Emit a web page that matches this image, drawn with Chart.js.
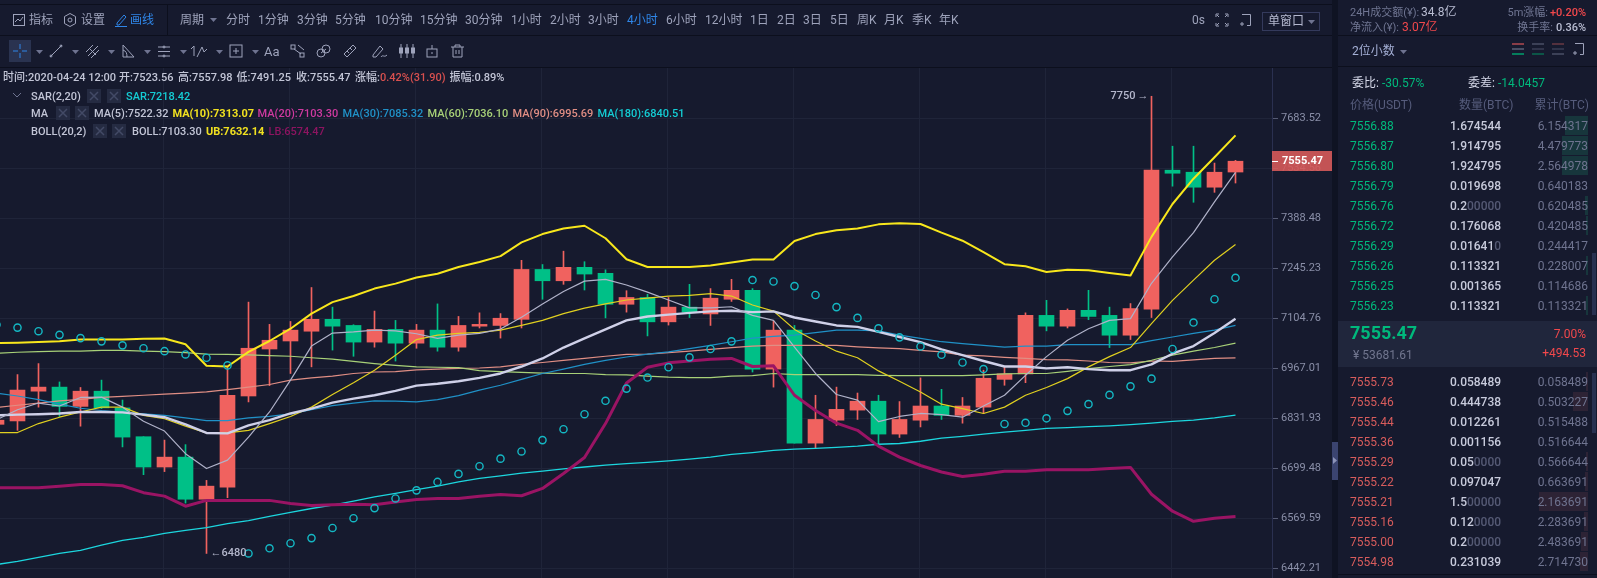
<!DOCTYPE html>
<html><head><meta charset="utf-8">
<style>
html,body{margin:0;padding:0;width:1597px;height:578px;overflow:hidden;background:#161a2e;font-family:Roboto,"Noto Sans CJK SC",sans-serif;}
#ui{position:absolute;left:0;top:0;width:1597px;height:578px;pointer-events:none;}
#wrap{position:absolute;left:0;top:68px;width:1332px;height:510px;}
canvas{display:block;}
.t{position:absolute;white-space:nowrap;transform:translateY(-50%);line-height:1;}
.r{position:absolute;}
svg{position:absolute;overflow:visible;}
</style>
<script src="https://cdn.jsdelivr.net/npm/chart.js@4"></script>
</head><body>
<div id="wrap"><canvas id="c" width="1332" height="510"></canvas></div>
<div id="ui"></div>
<script>
// ---------- candle data (USDT, 4h candles) ----------
const openP=[6816,6825,6905,6916,6864,6905,6860,6783,6703,6729,6619,6650,6892,7020,7042,7069,7102,7085,7039,7074,7036,7072,7025,7083,7085,7102,7242,7210,7248,7231,7144,7163,7095,7136,7117,7158,7183,6965,7072,6766,6827,6854,6878,6790,6827,6865,6840,6862,6937,6952,7113,7083,7127,7113,7058,7130,7529,7523,7479,7523.56];
const closeP=[6827,6908,6916,6864,6905,6860,6782,6703,6729,6619,6653,6894,7022,7044,7072,7102,7083,7039,7074,7036,7072,7025,7085,7088,7105,7242,7210,7248,7229,7144,7163,7095,7136,7122,7161,7183,6965,7072,6766,6829,6856,6878,6790,6829,6865,6840,6865,6940,6952,7113,7083,7127,7110,7058,7132,7529,7520,7479,7523,7555.47];
const highP=[6836,6950,6980,6930,6915,6935,6881,6783,6774,6762,6668,6970,7150,7088,7096,7191,7136,7087,7125,7099,7088,7145,7110,7120,7118,7268,7256,7294,7264,7241,7182,7172,7163,7200,7188,7214,7188,7097,7085,6894,6916,6900,6894,6877,6941,6910,6888,6962,6971,7120,7155,7131,7183,7136,7146,7750,7600,7600,7550,7557.98];
const lowP=[6800,6800,6862,6837,6811,6858,6756,6683,6691,6609,6480,6623,6876,6920,6953,6971,7017,7000,7025,6987,7022,7014,7014,7078,7050,7078,7158,7200,7184,7106,7122,7056,7086,7107,7085,7152,6957,6916,6766,6752,6813,6829,6762,6781,6809,6829,6819,6845,6921,6928,7070,7078,7101,7024,7046,7107,7482,7435,7464,7491.25];
// ---------- indicator series ----------
const ma5=[6828,6855,6873,6865,6888,6889,6862,6824,6798,6738,6699,6721,6782,6849,6935,7028,7064,7067,7072,7070,7062,7049,7058,7063,7075,7108,7145,7180,7209,7214,7198,7178,7156,7134,7134,7137,7113,7099,7025,6953,6896,6881,6823,6837,6845,6842,6835,6865,6894,6948,6999,7044,7076,7099,7104,7203,7278,7347,7436,7522.32];
const ma10=[6794,6794,6818,6835,6849,6862,6862,6840,6831,6811,6793,6793,6800,6818,6837,6862,6896,6928,6962,7003,7046,7058,7063,7066,7072,7085,7099,7118,7133,7145,7156,7161,7167,7169,7174,7167,7142,7125,7074,7042,7014,6996,6960,6932,6903,6870,6858,6845,6862,6894,6915,6939,6971,6999,7024,7090,7155,7212,7268,7313.07];
const ma30=[6900,6892,6882,6870,6859,6853,6849,6844,6840,6833,6826,6826,6833,6837,6844,6855,6866,6873,6879,6878,6876,6882,6893,6908,6921,6937,6953,6965,6978,6989,6998,7006,7012,7021,7030,7040,7050,7055,7058,7065,7072,7072,7070,7058,7049,7040,7035,7030,7025,7028,7028,7032,7032,7032,7032,7043,7053,7063,7072,7085.32];
const ma60=[7008,7011,7013,7014,7014,7016,7016,7014,7013,7010,7006,7005,7004,7002,7000,6996,6992,6986,6980,6975,6971,6970,6969,6961,6958,6956,6954,6953,6953,6950,6949,6946,6943,6942,6942,6946,6947,6953,6950,6950,6950,6950,6948,6947,6947,6947,6947,6949,6952,6953,6953,6959,6966,6972,6977,6989,7003,7014,7024,7036.10];
const ma90=[6861,6867,6873,6879,6883,6888,6891,6894,6897,6900,6903,6909,6916,6923,6935,6941,6946,6953,6957,6958,6963,6965,6967,6968,6971,6978,6983,6989,6994,7000,7005,7006,7010,7014,7019,7024,7028,7030,7030,7030,7030,7026,7023,7021,7016,7012,7003,7001,6997,6994,6991,6990,6987,6983,6982,6987,6986,6990,6994,6995.69];
const ma180=[6452,6460,6470,6480,6488,6501,6513,6521,6531,6539,6546,6556,6564,6575,6585,6595,6604,6614,6625,6634,6644,6653,6664,6673,6680,6687,6692,6698,6703,6708,6712,6715,6719,6724,6729,6736,6741,6747,6750,6752,6755,6758,6763,6765,6771,6779,6784,6790,6795,6800,6805,6807,6810,6812,6815,6819,6824,6827,6833,6840.51];
const bollMid=[6840,6842,6843,6845,6849,6849,6848,6842,6835,6816,6793,6792,6813,6827,6845,6858,6874,6885,6894,6906,6920,6925,6932,6941,6953,6972,6994,7024,7049,7074,7099,7110,7115,7120,7124,7126,7122,7124,7107,7096,7085,7081,7067,7053,7039,7019,7003,6987,6972,6972,6967,6970,6965,6962,6962,6978,7007,7028,7064,7103.30];
const bollUp=[7036,7037,7039,7041,7046,7046,7046,7048,7049,7033,6974,6972,7012,7042,7076,7118,7150,7167,7188,7202,7219,7230,7249,7263,7280,7319,7343,7359,7367,7331,7271,7249,7249,7249,7253,7262,7270,7270,7323,7343,7354,7359,7371,7374,7372,7347,7324,7291,7257,7251,7235,7241,7240,7232,7225,7335,7430,7504,7567,7632.14];
const bollLow=[6649,6649,6649,6653,6657,6657,6654,6636,6627,6601,6616,6616,6616,6616,6608,6603,6605,6606,6605,6612,6618,6621,6621,6627,6631,6628,6647,6686,6728,6818,6927,6970,6982,6987,6992,6994,6972,6974,6894,6853,6819,6800,6758,6729,6707,6690,6678,6684,6692,6692,6696,6696,6696,6699,6702,6632,6588,6562,6570,6574.47];
const sar=[7087,7079,7069,7059,7050,7041,7030,7022,7014,7005,6996,6975,6480,6493,6506,6519,6545,6570,6596,6621,6642,6664,6685,6705,6725,6744,6774,6803,6843,6879,6912,6942,6970,6997,7020,7041,7212,7208,7195,7170,7136,7106,7077,7052,7027,7004,6983,6965,6817,6820,6832,6852,6870,6895,6918,6939,7020,7093,7158,7218.42];
const priceTicks=[7683.52,7534.56,7388.48,7245.23,7104.76,6967.01,6831.93,6699.48,6569.59,6442.21];
const dayStartCandles=[8,14,20,26,32,38,44,50,56];
const lastPrice=7555.47;
const hiMark=7750, loMark=6480;

// ---------- order book ----------
const bidPrice=["7556.88","7556.87","7556.80","7556.79","7556.76","7556.72","7556.29","7556.26","7556.25","7556.23"];
const bidQty=["1.674544","1.914795","1.924795","0.019698","0.200000","0.176068","0.016410","0.113321","0.001365","0.113321"];
const bidCum=["6.154317","4.479773","2.564978","0.640183","0.620485","0.420485","0.244417","0.228007","0.114686","0.113321"];
const askPrice=["7555.73","7555.46","7555.44","7555.36","7555.29","7555.22","7555.21","7555.16","7555.00","7554.98"];
const askQty=["0.058489","0.444738","0.012261","0.001156","0.050000","0.097047","1.500000","0.120000","0.200000","0.231039"];
const askCum=["0.058489","0.503227","0.515488","0.516644","0.566644","0.663691","2.163691","2.283691","2.483691","2.714730"];

const UP='#f0625f',DOWN='#00c087';
const idx=openP.map((_,i)=>i);
const col=idx.map(i=>closeP[i]>=openP[i]?UP:DOWN);
const line=(data,color,w,order)=>({type:'line',data:data.map((y,i)=>({x:i,y})),borderColor:color,borderWidth:w,pointRadius:0,tension:0,order,borderJoinStyle:'round'});

const overlay={id:'overlay',afterDraw(ch){
  const {ctx,scales:{x,y}}=ch;ctx.save();
  // high / low markers
  ctx.font='500 11px Roboto';ctx.fillStyle='#b4b7cc';ctx.textBaseline='middle';
  const hx=x.getPixelForValue(highP.indexOf(hiMark)),hy=y.getPixelForValue(hiMark);
  const lx=x.getPixelForValue(lowP.indexOf(loMark)),ly=y.getPixelForValue(loMark);
  ctx.textAlign='right';ctx.fillText(String(hiMark),hx-16,hy);ctx.fillText('→',hx-3,hy);
  ctx.textAlign='left';ctx.fillText('←',lx+4,ly);ctx.fillText(String(loMark),lx+15,ly);
  // current price box
  const py=Math.round(y.getPixelForValue(lastPrice));
  ctx.fillStyle='rgba(214,90,90,0.90)';ctx.fillRect(1272,py-10,60,20);
  ctx.fillStyle='#fff';ctx.fillRect(1272,py,6,1);
  ctx.font='bold 11px Roboto';ctx.textAlign='left';ctx.fillText(lastPrice.toFixed(2),1282,py+0.5);
  ctx.restore();
}};

new Chart(document.getElementById('c'),{
  data:{datasets:[
    {type:'bar',grouped:false,data:idx.map(i=>({x:i,y:[lowP[i],highP[i]]})),backgroundColor:col,barThickness:1,order:100},
    {type:'bar',grouped:false,data:idx.map(i=>({x:i,y:[Math.min(openP[i],closeP[i]),Math.max(openP[i],closeP[i])]})),backgroundColor:col,barThickness:15,order:99},
    line(ma180,'#1cd6de',1.3,9),
    line(ma90,'#e08e84',1.2,8),
    line(ma60,'#a8d178',1.2,7),
    line(ma30,'#2091c7',1.2,6),
    line(ma10,'#e0d020',1.2,5),
    line(bollMid,'#cfd0e8',2.4,4),
    line(ma5,'#b0b2c9',1.2,3),
    line(bollLow,'#9a1464',3,2),
    line(bollUp,'#f8e71c',2,1),
    {type:'line',showLine:false,data:sar.map((y,i)=>({x:i,y})),pointRadius:3.6,pointBorderWidth:1.4,pointBorderColor:'#14b8c4',pointBackgroundColor:'rgba(0,0,0,0)',order:0}
  ]},
  plugins:[overlay],
  options:{
    responsive:false,animation:false,devicePixelRatio:1,
    layout:{padding:0,autoPadding:false},
    plugins:{legend:{display:false},tooltip:{enabled:false}},
    scales:{
      x:{type:'linear',offset:false,min:0.16667,max:60.7381,position:'bottom',
        afterBuildTicks(s){s.ticks=dayStartCandles.map(v=>({value:v-0.05}));},
        afterFit(s){s.height=0;s.paddingLeft=0;s.paddingRight=0;},
        ticks:{display:false},border:{display:false},grid:{offset:false,color:'#1f2439',drawTicks:false}},
      y:{type:'logarithmic',position:'right',min:6418.0,max:7836.3,
        afterBuildTicks(s){s.ticks=priceTicks.map(v=>({value:v}));},
        afterFit(s){s.width=60;s.paddingTop=0;s.paddingBottom=0;},
        ticks:{autoSkip:false,maxRotation:0,padding:3,color:'#8a8fa8',font:{family:'Roboto',size:11},callback:v=>Number(v).toFixed(2)},
        border:{color:'#2a3050'},
        grid:{color:'#1f2439',tickColor:'#565b74',tickLength:6}}
    }
  }
});

// ---------- page chrome ----------
const ui=document.getElementById('ui');
function T(x,y,s,c,o={}){const e=document.createElement('div');e.className='t';e.textContent=s;
  e.style.cssText+=`left:${x}px;top:${y}px;color:${c};font-size:${o.fs||12}px;font-weight:${o.w||400};`;
  if(o.right!==undefined){e.style.left='auto';e.style.right=(1597-o.right)+'px';}
  ui.appendChild(e);return e;}
function R(x,y,w,h,c){const e=document.createElement('div');e.className='r';
  e.style.cssText=`left:${x}px;top:${y}px;width:${w}px;height:${h}px;background:${c};`;ui.appendChild(e);return e;}
function S(x,y,w,h,inner,stroke='#8f95ad',sw=1){ui.insertAdjacentHTML('beforeend',`<svg style="left:${x}px;top:${y}px" width="${w}" height="${h}" viewBox="0 0 ${w} ${h}" fill="none" stroke="${stroke}" stroke-width="${sw}">${inner}</svg>`);}
const tri=(x,y,c='#6e7390')=>S(x,y,7,4,'<path d="M0 0H7L3.5 4Z" fill="'+c+'" stroke="none"/>');

const DK='#0c0f1d',TXT='#9ea3bb',BLUE='#2f86e8';
// separators
R(0,4,1332,1,DK);R(0,35,1332,1,DK);R(0,67,1332,1,DK);R(167,4,1,31,DK);
R(1332,0,6,578,'#0f1323');
// top toolbar
S(13,14,12,12,'<rect x=".5" y=".5" width="11" height="11"/><path d="M2 8l3-3 2 2 3-4"/>',TXT);
T(29,20,'指标',TXT);
S(64,13,12,14,'<path d="M6 .5l5.5 3v7L6 13.5.5 10.5v-7Z"/><circle cx="6" cy="7" r="2"/>',TXT);
T(81,20,'设置',TXT);
S(115,14,12,13,'<path d="M2 9L9 1l2 2-7 8H2ZM0 12.5h12"/>',BLUE);
T(130,20,'画线',BLUE);
T(180,20,'周期',TXT);tri(210,18);
const periods=[['分时',226],['1分钟',258],['3分钟',297],['5分钟',335],['10分钟',375],['15分钟',420],['30分钟',465],['1小时',511],['2小时',550],['3小时',588],['4小时',627],['6小时',666],['12小时',705],['1日',750],['2日',777],['3日',803],['5日',830],['周K',857],['月K',884],['季K',912],['年K',939]];
periods.forEach(([s,x])=>T(x,20,s,s==='4小时'?BLUE:TXT));
T(1192,20,'0s',TXT);
S(1216,14,12,12,'<path d="M0 3V0H3M9 0H12V3M12 9V12H9M3 12H0V9M1 1l2 2M11 1L9 3M11 11L9 9M1 11l2-2"/>',TXT);
S(1239,14,12,12,'<path d="M3 .5H11.5V11.5H8M3 8v4M1 10h4"/>',TXT);
const box=R(1262,12,58,19,'transparent');box.style.boxSizing='border-box';box.style.border='1px solid #343a5c';
T(1268,21,'单窗口','#b4b8cf');tri(1308,20);
// drawing toolbar
R(9,40,22,22,'#2a3350');
S(13,44,14,14,'<path d="M7 0V5M7 9V14M0 7H5M9 7H14"/>',BLUE);
[36,72,108,144,180,216,252].forEach(x=>tri(x,50));
S(50,45,12,12,'<path d="M0 12L12 0"/><circle cx="1" cy="11" r="1"/><circle cx="11" cy="1" r="1"/>',TXT);
S(86,45,13,13,'<path d="M0 7L7 0M2 11L12 1M5 13L13 5M3 3L10 10" />',TXT);
S(122,45,12,13,'<path d="M1 0V12H12ZM1 5C4 6 5 8 5 12"/>',TXT);
S(158,45,12,13,'<path d="M0 2H12M0 6.5H12M0 11H12"/><circle cx="6" cy="2" r="1"/><circle cx="6" cy="11" r="1"/>',TXT);
S(191,45,17,13,'<path d="M0 4L3 1V11M6 12L11 2L13 7L16 4"/>',TXT);
S(229,44,14,14,'<rect x="1" y="1" width="12" height="12"/><path d="M7 4V10M4 7H10"/>',TXT);
T(264,51,'Aa',TXT,{fs:13});
S(290,44,15,14,'<rect x="1" y="1" width="4" height="4"/><rect x="10" y="9" width="4" height="4"/><path d="M4 5L11 10M8 1L14 6"/>',TXT);
S(316,44,15,14,'<circle cx="5" cy="9" r="4"/><circle cx="10" cy="5" r="4"/><path d="M5 9L10 5"/>',TXT);
S(343,44,14,14,'<path d="M1 10L10 1L13 4L4 13ZM4 7l2 2M7 4l2 2"/>',TXT);
S(372,44,15,14,'<path d="M1 11L8 2L11 5L4 13H1ZM9 13C11 10 12 14 15 11"/>',TXT);
S(399,44,16,14,'<path d="M2 0V14M8 0V14M14 0V14"/><rect x="0.5" y="4" width="3" height="5" fill="'+TXT+'"/><rect x="6.5" y="4" width="3" height="5" fill="'+TXT+'"/><rect x="12.5" y="4" width="3" height="5" fill="'+TXT+'"/>',TXT);
S(426,44,12,14,'<rect x="1" y="5" width="10" height="8"/><path d="M6 1V5M6 8V10"/>',TXT);
S(451,44,13,14,'<path d="M0 3H13M4 3V1H9V3M2 3V13H11V3M5 6V10M8 6V10"/>',TXT);

// indicator legend
const LG='#c2c5d6',fs={fs:11,w:500};
[['时间:2020-04-24 12:00',3],['开:7523.56',119],['高:7557.98',178],['低:7491.25',236.5],['收:7555.47',296],['涨幅:',355],['振幅:0.89%',449.5]].forEach(([s,x])=>T(x,77,s,LG,fs));
T(380,77,'0.42%(31.90)','#d8504f',fs);
S(13,93,8,5,'<path d="M0 0L4 4L8 0"/>','#6e7390');
const ctlBox=(x,y)=>{R(x,y-7,14,14,'#252b42');S(x+3,y-4,8,8,'<path d="M0 0L8 8M8 0L0 8"/>','#434a66',1.5);};
T(31,96,'SAR(2,20)',LG,fs);ctlBox(87,96);ctlBox(106.5,96);T(126,96,'SAR:7218.42','#14cdd4',fs);
T(31,113,'MA',LG,fs);ctlBox(56,113);ctlBox(75,113);
T(94,113,'MA(5):7522.32',LG,fs);
T(172.5,113,'MA(10):7313.07','#f0e020',{fs:11,w:700});
T(257.6,113,'MA(20):7103.30','#cf3aa0',fs);
T(342.6,113,'MA(30):7085.32','#2091c7',fs);
T(427.6,113,'MA(60):7036.10','#a8d178',fs);
T(512.6,113,'MA(90):6995.69','#e08e84',fs);
T(597.6,113,'MA(180):6840.51','#14cdd4',fs);
T(31,131,'BOLL(20,2)',LG,fs);ctlBox(93,131);ctlBox(112,131);
T(132,131,'BOLL:7103.30',LG,fs);
T(206,131,'UB:7632.14','#f0e020',{fs:11,w:700});
T(268.5,131,'LB:6574.47','#8c1460',fs);

// side panel
const GY='#6f7592',RD='#f2484c',GN='#00b97c',AR='#d85c5c';
R(1338,35,259,1,DK);R(1338,66,259,1,DK);
T(1350,12,'24H成交额(¥):',GY,{fs:11});T(1421,12,'34.8亿','#b9bdd2',{fs:12});
T(1350,27,'净流入(¥):',GY,{fs:11});T(1402,27,'3.07亿',RD,{fs:12});
T(0,12,'5m涨幅:',GY,{fs:11,right:1548});T(0,12,'+0.20%',RD,{fs:11,w:500,right:1586});
T(0,27,'换手率:',GY,{fs:11,right:1553});T(0,27,'0.36%','#b9bdd2',{fs:11,w:500,right:1586});
T(1352,51,'2位小数','#a5b0d6',{fs:12});tri(1400,50);
S(1512,43,12,12,'<path d="M0 1H12" stroke="#b04a50" stroke-width="1.5"/><path d="M0 6H12" stroke="#7d8299"/><path d="M0 11H12" stroke="#00a06c" stroke-width="1.5"/>');
S(1532,43,12,12,'<path d="M0 1H12" stroke="#4a4f66" stroke-width="1.5"/><path d="M0 6H12" stroke="#4a4f66"/><path d="M0 11H12" stroke="#0a6a50" stroke-width="1.5"/>');
S(1552,43,12,12,'<path d="M0 1H12" stroke="#6a3a44" stroke-width="1.5"/><path d="M0 6H12" stroke="#4a4f66"/><path d="M0 11H12" stroke="#4a4f66" stroke-width="1.5"/>');
S(1572,43,12,12,'<path d="M3 .5H11.5V11.5H8M3 8v4M1 10h4"/>',TXT);
T(1352,83,'委比:','#d5d8e8');T(1382,83,'-30.57%',GN);T(1468,83,'委差:','#d5d8e8');T(1498,83,'-14.0457',GN);
T(1350,105,'价格(USDT)','#565c7c');T(1459,105,'数量(BTC)','#565c7c');T(0,105,'累计(BTC)','#565c7c',{right:1589});

function qtyCell(x,y,q){ // trailing zeros are dimmed
  const m=q.match(/^(.*?)(0*)$/);const e=T(x,y,m[1],'#c8cbdc',{w:500});
  const zs=document.createElement('span');zs.textContent=m[2];zs.style.color='#555a75';e.appendChild(zs);}
function row(y,p,pc,q,cum,bar,barC){
  if(bar>0.5)R(1588-bar,y-9.5,bar,19,barC);
  T(1350,y,p,pc);qtyCell(1450,y,q);T(0,y,cum,'#6f7490',{right:1588});}
bidPrice.forEach((p,i)=>row(125.7+20*i,p,GN,bidQty[i],bidCum[i],parseFloat(bidQty[i])*13.5,'#17363c'));
R(1592,253,4,62,'#283150');
R(1338,321,259,46,'#20263c');
T(1350,333,'7555.47',GN,{fs:18,w:700});
T(1353,354.5,'¥ 53681.61','#71768f');
T(0,334,'7.00%',RD,{right:1586});T(0,353,'+494.53',RD,{right:1586});
askPrice.forEach((p,i)=>row(381.7+20*i,p,AR,askQty[i],askCum[i],parseFloat(askQty[i])*33,'#2d2335'));
R(1592,373,4,60,'#283150');
R(1338,574,259,1,DK);
// panel collapse handle
R(1332,442,6,38,'#3b4470');
S(1333,457,4,7,'<path d="M0 0L4 3.5L0 7Z" fill="#8d94b8" stroke="none"/>');
</script>
</body></html>
